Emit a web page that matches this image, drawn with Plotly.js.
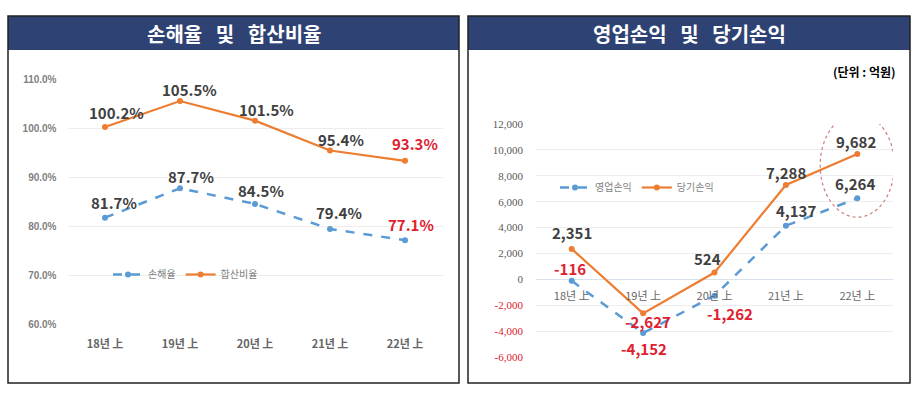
<!DOCTYPE html>
<html><head><meta charset="utf-8">
<script src="https://cdn.plot.ly/plotly-3.0.1.min.js"></script>
<style>html,body{margin:0;padding:0;background:#fff}#chart{width:923px;height:393px}</style>
</head><body><div id="chart"></div>
<script>
// ---- data ----
const categories = ['18년 上', '19년 上', '20년 上', '21년 上', '22년 上'];
const lossRatio = [81.7, 87.7, 84.5, 79.4, 77.1];          // 손해율
const combinedRatio = [100.2, 105.5, 101.5, 95.4, 93.3];  // 합산비율
const operatingProfit = [-116, -4152, -1262, 4137, 6264]; // 영업손익
const netProfit = [2351, -2627, 524, 7288, 9682];         // 당기손익
const leftTitle = '손해율 및 합산비율';
const rightTitle = '영업손익 및 당기손익';
const unitNote = '(단위 : 억원)';
const leftTicks = [60, 70, 80, 90, 100, 110];
const rightTicks = [-6000, -4000, -2000, 0, 2000, 4000, 6000, 8000, 10000, 12000];

// ---- styling ----
const W = 923, H = 393;
const px = v => v / W, py = v => 1 - v / H;
const BLUE = '#5B9BD5', ORANGE = '#ED7D31', NAVY = '#2E4374', RED = '#E0202F', LBL = '#404040';
const KFONT = '"Noto Sans CJK KR", "Noto Sans", sans-serif';

const fmtPct = v => v.toFixed(1) + '%';
const fmtNum = v => (v < 0 ? '-' : '') + Math.abs(v).toLocaleString('en-US');

// label offsets (px) per point
const lossOff = [[9, 15], [11, 12], [6, 13], [9, 16], [6, 16]];
const combOff = [[11, 15], [9, 12], [11, 11], [11, 11], [10, 17]];
const opOff = [[-2, 12], [1, -15], [15, -18], [10, 15], [-2, 15]];
const netOff = [[0, 16], [5, -8], [-7, 14], [0, 12], [-1, 13]];

const traces = [
  {x: categories, y: lossRatio, name: '손해율', type: 'scatter', mode: 'lines+markers',
   line: {color: BLUE, width: 2.5, dash: 'dash'}, marker: {size: 6, color: BLUE},
   xaxis: 'x', yaxis: 'y', legend: 'legend', cliponaxis: false},
  {x: categories, y: combinedRatio, name: '합산비율', type: 'scatter', mode: 'lines+markers',
   line: {color: ORANGE, width: 2.2}, marker: {size: 6, color: ORANGE},
   xaxis: 'x', yaxis: 'y', legend: 'legend', cliponaxis: false},
  {x: categories, y: operatingProfit, name: '영업손익', type: 'scatter', mode: 'lines+markers',
   line: {color: BLUE, width: 2.5, dash: 'dash'}, marker: {size: 6, color: BLUE},
   xaxis: 'x2', yaxis: 'y2', legend: 'legend2', cliponaxis: false},
  {x: categories, y: netProfit, name: '당기손익', type: 'scatter', mode: 'lines+markers',
   line: {color: ORANGE, width: 2.2}, marker: {size: 6, color: ORANGE},
   xaxis: 'x2', yaxis: 'y2', legend: 'legend2', cliponaxis: false}
];

const annotations = [];
function addLabels(vals, offs, xr, yr, fmt, lastRed, negRed) {
  vals.forEach((v, i) => {
    const red = (lastRed && i === vals.length - 1) || (negRed && v < 0);
    annotations.push({x: categories[i], y: v, xref: xr, yref: yr, text: fmt(v), showarrow: false,
      xanchor: 'center', yanchor: 'middle',
      xshift: offs[i][0], yshift: offs[i][1],
      font: {family: KFONT, size: 15, color: red ? RED : LBL, weight: 600}});
  });
}
addLabels(lossRatio, lossOff, 'x', 'y', fmtPct, true, false);
addLabels(combinedRatio, combOff, 'x', 'y', fmtPct, true, false);
addLabels(operatingProfit, opOff, 'x2', 'y2', fmtNum, false, true);
addLabels(netProfit, netOff, 'x2', 'y2', fmtNum, false, true);

// panel titles
annotations.push({xref: 'paper', yref: 'paper', x: px(233.5), y: py(33), xanchor: 'center', yanchor: 'middle',
  text: leftTitle.replace(/ /g, '\u00A0\u00A0\u00A0'),
  showarrow: false, font: {family: KFONT, size: 20, color: '#ffffff', weight: 700}});
annotations.push({xref: 'paper', yref: 'paper', x: px(689), y: py(33), xanchor: 'center', yanchor: 'middle',
  text: rightTitle.replace(/ /g, '\u00A0\u00A0\u00A0'),
  showarrow: false, font: {family: KFONT, size: 20, color: '#ffffff', weight: 700}});
annotations.push({xref: 'paper', yref: 'paper', x: px(898), y: py(71), xanchor: 'right', yanchor: 'middle', text: unitNote,
  showarrow: false, font: {family: KFONT, size: 12, color: '#000000', weight: 700}});

const shapes = [
  // title bands
  {type: 'rect', xref: 'paper', yref: 'paper', x0: px(8), x1: px(459), y0: py(16), y1: py(50), fillcolor: NAVY, line: {width: 0}, layer: 'below'},
  {type: 'rect', xref: 'paper', yref: 'paper', x0: px(468), x1: px(910), y0: py(16), y1: py(50), fillcolor: NAVY, line: {width: 0}, layer: 'below'},
  // panel borders
  {type: 'rect', xref: 'paper', yref: 'paper', x0: px(8), x1: px(459), y0: py(16), y1: py(383), line: {color: '#222', width: 1.5}},
  {type: 'rect', xref: 'paper', yref: 'paper', x0: px(468), x1: px(910), y0: py(16), y1: py(383), line: {color: '#222', width: 1.5}},
  // highlight ellipse
  {type: 'circle', xref: 'x2', yref: 'y2', x0: 3.48, x1: 4.52, y0: 4800, y1: 12800,
   line: {color: '#D27A7A', width: 1.2, dash: 'dot'}}
];

const yDom2 = [py(357), py(124)];
const yRange2 = [-6000, 12000];
const zeroPos = yDom2[0] + (yDom2[1] - yDom2[0]) * (0 - yRange2[0]) / (yRange2[1] - yRange2[0]);

const layout = {
  width: W, height: H, margin: {l: 0, r: 0, t: 0, b: 0},
  paper_bgcolor: '#ffffff', plot_bgcolor: 'rgba(0,0,0,0)',
  font: {family: KFONT},
  showlegend: true,
  xaxis: {domain: [px(67.5), px(442.5)], range: [-0.5, 4.5], anchor: 'y', type: 'category', showgrid: false, zeroline: false,
    showline: false, ticks: '', ticklabelstandoff: 12,
    tickfont: {family: KFONT, size: 11, color: '#666666', weight: 600}},
  yaxis: {domain: [py(324), py(79)], range: [60, 110], anchor: 'x', tickvals: leftTicks,
    ticktext: leftTicks.map(v => v.toFixed(1) + '%'),
    showgrid: true, gridcolor: '#EDEDED', gridwidth: 1, zeroline: false, showline: false, ticks: '',
    ticklabelstandoff: 10, tickfont: {family: '"Liberation Sans", sans-serif', size: 10, color: '#7F7F7F', weight: 700}},
  xaxis2: {domain: [px(536), px(893)], range: [-0.5, 4.5], anchor: 'free', position: zeroPos, type: 'category', showgrid: false,
    zeroline: false, showline: false, ticks: '', ticklabelstandoff: 9,
    tickfont: {family: KFONT, size: 11, color: '#666666'}},
  yaxis2: {domain: yDom2, range: yRange2, anchor: 'x2', tickvals: rightTicks,
    ticktext: rightTicks.map(v => v < 0 ? '<span style="color:' + RED + '">' + fmtNum(v) + '</span>' : fmtNum(v)),
    showgrid: true, gridcolor: '#EDEDED', gridwidth: 1, zeroline: true, zerolinecolor: '#D9E1EA', zerolinewidth: 1.5,
    showline: false, ticks: '', ticklabelstandoff: 12,
    tickfont: {family: '"Liberation Serif", serif', size: 11, color: '#595959'}},
  legend: {orientation: 'h', x: px(108), y: py(260), xanchor: 'left', yanchor: 'top', bgcolor: 'rgba(0,0,0,0)',
    itemwidth: 30, font: {family: KFONT, size: 10, color: '#7F7F7F'}},
  legend2: {orientation: 'h', x: px(555), y: py(173), xanchor: 'left', yanchor: 'top', bgcolor: 'rgba(0,0,0,0)',
    itemwidth: 30, font: {family: KFONT, size: 10, color: '#7F7F7F'}},
  annotations: annotations,
  shapes: shapes
};

Plotly.newPlot('chart', traces, layout, {displayModeBar: false, staticPlot: true});
</script></body></html>
